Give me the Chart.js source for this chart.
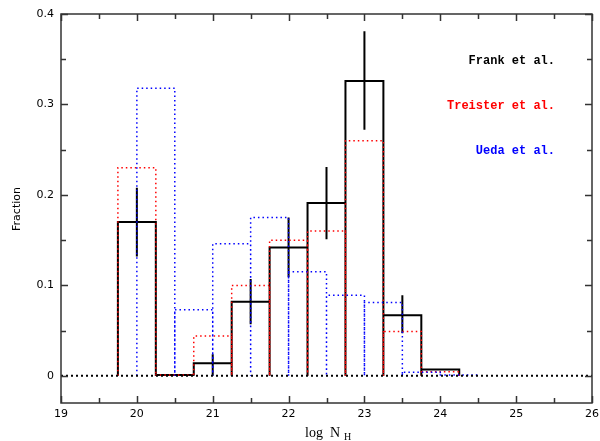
<!DOCTYPE html>
<html>
<head>
<meta charset="utf-8">
<script src="https://cdn.jsdelivr.net/npm/chart.js@4/dist/chart.umd.min.js"></script>
<style>
    html, body { margin: 0; padding: 0; background: #fff; }
    #wrap { width: 600px; height: 441px; position: relative; }
</style>
</head>
<body>
<div id="wrap"><canvas id="nhChart"></canvas></div>
<script>
// Bin edges (log NH)
const binEdges = [19.75, 20.25, 20.75, 21.25, 21.75, 22.25, 22.75, 23.25, 23.75, 24.25];
const uedaEdges = [20, 20.5, 21, 21.5, 22, 22.5, 23, 23.5, 24, 24.5];

// Fractions per bin
const frankFrac = [0.170, 0.001, 0.014, 0.082, 0.142, 0.191, 0.326, 0.067, 0.007];
const frankLow = [0.132, null, 0.000, 0.057, 0.109, 0.151, 0.272, 0.047, null];
const frankHigh = [0.208, null, 0.024, 0.107, 0.175, 0.231, 0.381, 0.089, null];
const treisterFrac = [0.230, 0.001, 0.044, 0.100, 0.150, 0.160, 0.260, 0.049, 0.0045];
const uedaFrac = [0.318, 0.073, 0.146, 0.175, 0.115, 0.089, 0.081, 0.004, 0.001];

// Axis ticks
const xTicks = [19, 20, 21, 22, 23, 24, 25, 26];
const yTicks = [0, 0.1, 0.2, 0.3, 0.4];
const labels = ['Frank et al.', 'Treister et al.', 'Ueda et al.'];

// histogram outline: every bin is drawn as a box down to zero
function stepPoints(edges, vals) {
    const pts = [];
    vals.forEach((v, i) => {
        pts.push({ x: edges[i], y: 0 }, { x: edges[i], y: v }, { x: edges[i + 1], y: v }, { x: edges[i + 1], y: 0 });
    });
    return pts;
}

function errorPoints(edges, lo, hi) {
    const pts = [];
    lo.forEach((l, i) => {
        if (l === null) return;
        const c = (edges[i] + edges[i + 1]) / 2;
        pts.push({ x: c, y: l }, { x: c, y: hi[i] }, { x: c, y: null });
    });
    return pts;
}

const minorX = [];
for (let v = 19; v <= 26.001; v += 0.5) minorX.push(+v.toFixed(1));
const minorY = [];
for (let v = 0; v <= 0.4001; v += 0.05) minorY.push(+v.toFixed(2));

// frame with inward ticks on all four sides
const framePlugin = {
    id: 'frame',
    afterDraw(chart) {
        const { ctx, chartArea: a, scales: { x, y } } = chart;
        ctx.save();
        ctx.strokeStyle = '#333';
        ctx.lineWidth = 1.5;
        ctx.strokeRect(a.left, a.top, a.right - a.left, a.bottom - a.top);
        ctx.beginPath();
        minorX.forEach(v => {
            const px = Math.round(x.getPixelForValue(v)) + 0.5;
            const len = Number.isInteger(v) ? 7 : 5;
            ctx.moveTo(px, a.bottom); ctx.lineTo(px, a.bottom - len);
            ctx.moveTo(px, a.top); ctx.lineTo(px, a.top + len);
        });
        minorY.forEach(v => {
            const py = Math.round(y.getPixelForValue(v)) + 0.5;
            const len = Math.abs(v * 10 - Math.round(v * 10)) < 1e-6 ? 7 : 5;
            ctx.moveTo(a.left, py); ctx.lineTo(a.left + len, py);
            ctx.moveTo(a.right, py); ctx.lineTo(a.right - len, py);
        });
        ctx.stroke();

        // legend text
        ctx.font = 'bold 12px "Liberation Mono"';
        ctx.textAlign = 'right';
        ctx.textBaseline = 'middle';
        const cols = ['#000', '#ff0000', '#0000ff'];
        labels.forEach((t, i) => {
            ctx.fillStyle = cols[i];
            ctx.fillText(t, 555, 61 + i * 45);
        });

        // axis titles
        ctx.fillStyle = '#000';
        ctx.save();
        ctx.translate(17, 209);
        ctx.rotate(-Math.PI / 2);
        ctx.textAlign = 'center';
        ctx.font = '11px "DejaVu Sans"';
        ctx.fillText('Fraction', 0, 0);
        ctx.restore();

        ctx.textAlign = 'left';
        ctx.textBaseline = 'alphabetic';
        ctx.font = '14px "Liberation Serif"';
        ctx.fillText('log  N', 305, 437);
        ctx.font = '10px "Liberation Serif"';
        ctx.fillText('H', 344, 440);
        ctx.restore();
    }
};

const ctx = document.getElementById('nhChart').getContext('2d');
new Chart(ctx, {
    type: 'scatter',
    data: {
        datasets: [
            {
                label: 'zero',
                data: [{ x: 19, y: 0 }, { x: 26, y: 0 }],
                showLine: true, borderColor: '#000', borderWidth: 2, borderDash: [2, 3], pointRadius: 0
            },
            {
                label: 'Ueda et al.',
                data: stepPoints(uedaEdges, uedaFrac),
                showLine: true, borderColor: '#0000ff', borderWidth: 1.5, borderDash: [1.5, 3], pointRadius: 0
            },
            {
                label: 'Treister et al.',
                data: stepPoints(binEdges, treisterFrac),
                showLine: true, borderColor: '#ff0000', borderWidth: 1.5, borderDash: [1.5, 3], pointRadius: 0
            },
            {
                label: 'Frank et al.',
                data: stepPoints(binEdges, frankFrac),
                showLine: true, borderColor: '#000', borderWidth: 2, pointRadius: 0
            },
            {
                label: 'errors',
                data: errorPoints(binEdges, frankLow, frankHigh),
                showLine: true, spanGaps: false, borderColor: '#000', borderWidth: 2, pointRadius: 0
            }
        ]
    },
    options: {
        responsive: true,
        maintainAspectRatio: false,
        animation: false,
        layout: { padding: { left: 0, top: 14, right: 8, bottom: 0 } },
        plugins: { legend: { display: false }, tooltip: { enabled: false } },
        elements: { line: { tension: 0 } },
        scales: {
            x: {
                type: 'linear', min: 19, max: 26,
                grid: { display: false, drawTicks: false },
                border: { display: false },
                afterBuildTicks: s => { s.ticks = xTicks.map(v => ({ value: v })); },
                afterFit: s => { s.height = 38; s.paddingRight = 0; s.paddingLeft = 0; },
                ticks: {
                    padding: 5, maxRotation: 0, color: '#000',
                    font: { family: 'DejaVu Sans', size: 11 },
                    callback: v => String(v)
                }
            },
            y: {
                type: 'linear', min: -0.03, max: 0.4,
                grid: { display: false, drawTicks: false },
                border: { display: false },
                afterBuildTicks: s => { s.ticks = yTicks.map(v => ({ value: v })); },
                afterFit: s => { s.width = 61; s.paddingTop = 0; s.paddingBottom = 0; },
                ticks: {
                    padding: 7, color: '#000',
                    font: { family: 'DejaVu Sans', size: 11 },
                    callback: v => (v === 0 ? '0' : v.toFixed(1))
                }
            }
        }
    },
    plugins: [framePlugin]
});
</script>
</body>
</html>
